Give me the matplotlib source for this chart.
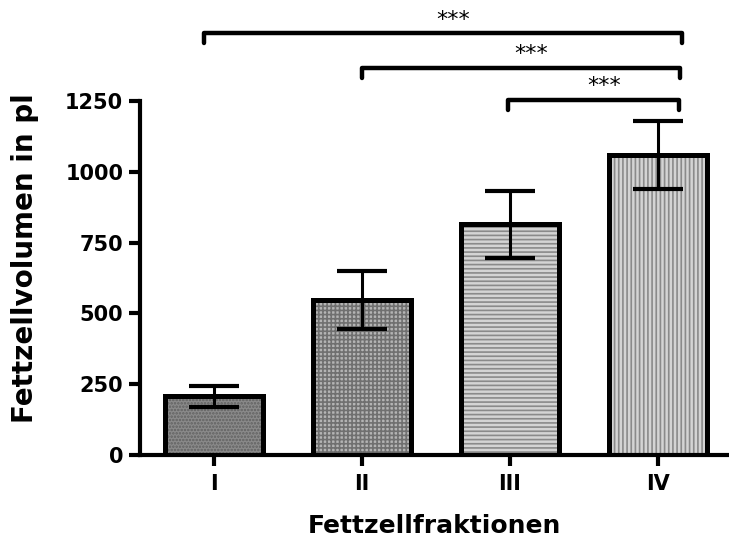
import matplotlib.pyplot as plt

plt.rcParams['font.family'] = ['DejaVu Sans']
plt.rcParams['font.weight'] = 'bold'
plt.rcParams['hatch.linewidth'] = 1.2

# data
fractions = ['I', 'II', 'III', 'IV']
volume = [208, 547, 815, 1060]
err = [37, 102, 118, 120]

# significance brackets (left x, right x, height, label)
brackets = [(-0.07, 3.16, 1490, '***'),
            (1.0, 3.15, 1367, '***'),
            (1.99, 3.14, 1254, '***')]

faces = ['#8a8a8a', '#b4b4b4', '#d4d4d4', '#d4d4d4']
hatches = ['.....', '++++', '----', '||||']
hatch_cols = ['#606060', '#707070', '#8a8a8a', '#8a8a8a']

fig = plt.figure(figsize=(7.29, 5.38), dpi=100)
ax = fig.add_axes([0.192, 0.1543, 0.808, 0.658])

x = list(range(len(fractions)))
for i in x:
    ax.bar(i, volume[i], width=0.66, color=faces[i], hatch=hatches[i],
           edgecolor=hatch_cols[i], linewidth=0, zorder=2)
ax.bar(x, volume, width=0.66, fill=False, edgecolor='black', linewidth=3.6,
       zorder=3)
ax.errorbar(x, volume, yerr=err, fmt='none', ecolor='black', elinewidth=2.2,
            capsize=18, capthick=3, zorder=4)

for x0, x1, h, lab in brackets:
    ax.plot([x0, x0, x1, x1], [h - 35, h, h, h - 35], color='black', lw=3.2,
            solid_capstyle='round', solid_joinstyle='round', clip_on=False)
    ax.text((x0 + x1) / 2 + 0.07, h + 12, lab, ha='center', va='bottom',
            fontsize=16, fontweight='normal')

ax.set_xlim(-0.5, 3.48)
ax.set_ylim(0, 1250)
ax.set_yticks([0, 250, 500, 750, 1000, 1250])
ax.set_xticks(x)
ax.set_xticklabels(fractions)
ax.spines['top'].set_visible(False)
ax.spines['right'].set_visible(False)
ax.spines['left'].set_linewidth(3)
ax.spines['bottom'].set_linewidth(3)
ax.tick_params(axis='both', width=3, length=8, labelsize=15, pad=4)
ax.tick_params(axis='x', pad=6)
ax.set_xlabel('Fettzellfraktionen', fontsize=18, fontweight='bold', labelpad=14)
ax.set_ylabel('Fettzellvolumen in pl', fontsize=20, fontweight='bold')
ax.yaxis.set_label_coords(-0.172, 0.556)

fig.savefig('out.png', dpi=100)
